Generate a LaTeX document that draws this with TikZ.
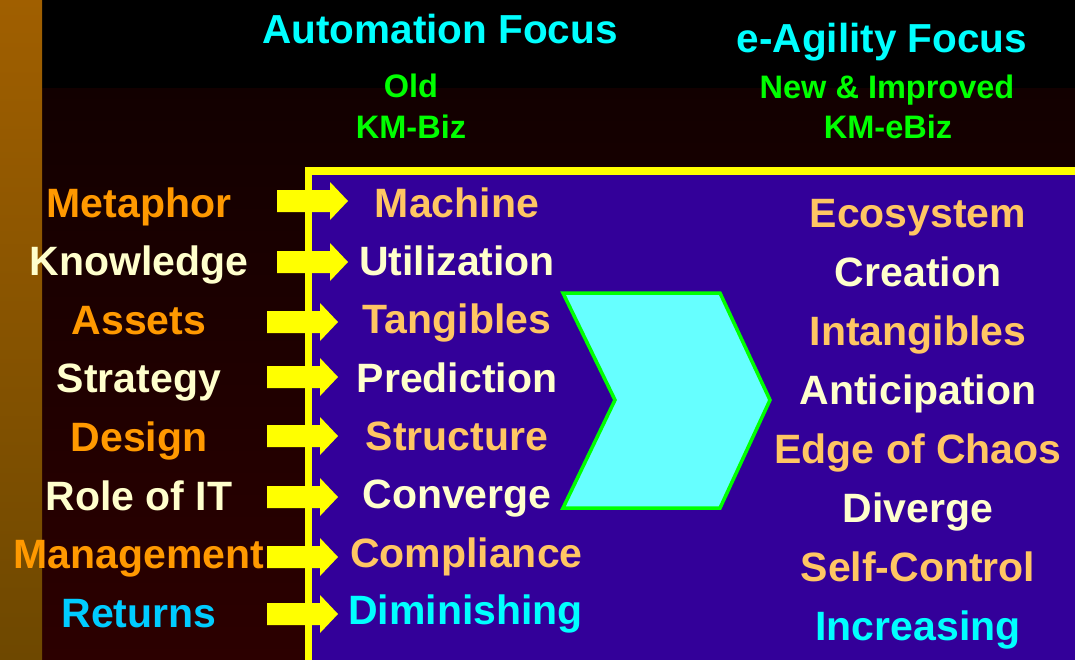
\documentclass[tikz,border=0pt]{standalone}
\usepackage{fontspec}
\setmainfont{Liberation Sans}
\definecolor{kmorange}{HTML}{FF9900}
\definecolor{kmcream}{HTML}{FFFFCC}
\definecolor{kmblue}{HTML}{00CCFF}
\definecolor{kmlight}{HTML}{FFC663}
\definecolor{kmcyan}{HTML}{00FFFF}
\definecolor{kmgreen}{HTML}{00FF00}
\definecolor{kmpurple}{HTML}{330099}
\definecolor{kmyellow}{HTML}{FFFF00}
\definecolor{chevfill}{HTML}{66FFFF}
\definecolor{bgmid}{HTML}{120000}
\definecolor{bgbot}{HTML}{2C0000}
\definecolor{bartop}{HTML}{A05F00}
\definecolor{barmid}{HTML}{FF9A00}
\definecolor{barbot}{HTML}{6E4800}
\begin{document}
\begin{tikzpicture}[x=1pt,y=-1pt,
  lbl/.style={anchor=base,inner sep=0pt,font=\fontsize{41}{41}\selectfont\bfseries},
  hdr/.style={anchor=base,inner sep=0pt,font=\fontsize{40.5}{40.5}\selectfont\bfseries,text=kmcyan},
  sub/.style={anchor=base,inner sep=0pt,font=\fontsize{32.5}{32.5}\selectfont\bfseries,text=kmgreen},
  yarrow/.style={fill=kmyellow},
  frame/.style={draw=kmyellow,line width=7.5pt,fill=kmpurple},
  chev/.style={draw=kmgreen,line width=3.5pt,fill=chevfill,line join=miter}]
\useasboundingbox (0,0) rectangle (1075,659);
% background
\fill[black] (0,0) rectangle (1075,88);
\shade[top color=bgmid,bottom color=bgbot] (0,88) rectangle (1075,659);
\shade[top color=bartop,middle color=barmid,bottom color=barbot] (0,0) rectangle (42,659);
% purple panel
\draw[frame] (308.5,171) rectangle (1090,668);
% chevron
\draw[chev] (563,293) -- (720,293) -- (770,400) -- (720,508) -- (563,508) -- (615,400) -- cycle;
\coordinate (chevron) at (667,400);
% yellow block arrows
\foreach \x/\y in {277/201,277/262,267/322,267/377,267/436,267/497,267/557,267/614}
  \fill[yarrow] (\x,\y-11) -- ++(53,0) -- ++(0,-8) -- ++(18,19) -- ++(-18,19) -- ++(0,-8) -- ++(-53,0) -- cycle;
% headers
\node[hdr] (h1) at (440,43) {Automation Focus};
\node[hdr] (h2) at (882,52) {e-Agility Focus};
\node[sub] (s1) at (411,97) {Old};
\node[sub] (s2) at (411,138) {KM-Biz};
\node[sub] (s3) at (887,98) {New \& Improved};
\node[sub] (s4) at (888,138) {KM-eBiz};
% left column
\node[lbl,text=kmorange] (l1) at (139,217) {Metaphor};
\node[lbl,text=kmcream] (l2) at (139,275.5) {Knowledge};
\node[lbl,text=kmorange] (l3) at (139,334) {Assets};
\node[lbl,text=kmcream] (l4) at (139,392.5) {Strategy};
\node[lbl,text=kmorange] (l5) at (139,451) {Design};
\node[lbl,text=kmcream] (l6) at (139,510) {Role of IT};
\node[lbl,text=kmorange] (l7) at (139,568.5) {Management};
\node[lbl,text=kmblue] (l8) at (139,627) {Returns};
% middle column
\node[lbl,text=kmlight] (m1) at (457,217) {Machine};
\node[lbl,text=kmcream] (m2) at (457,275) {Utilization};
\node[lbl,text=kmlight] (m3) at (457,333) {Tangibles};
\node[lbl,text=kmcream] (m4) at (457,392) {Prediction};
\node[lbl,text=kmlight] (m5) at (457,450) {Structure};
\node[lbl,text=kmcream] (m6) at (457,508) {Converge};
\node[lbl,text=kmlight,anchor=base west] (m7) at (350,567) {Compliance};
\node[lbl,text=kmcyan,anchor=base west] (m8) at (348,624) {Diminishing};
% right column
\node[lbl,text=kmlight] (r1) at (918,227) {Ecosystem};
\node[lbl,text=kmcream] (r2) at (918,286) {Creation};
\node[lbl,text=kmlight] (r3) at (918,345) {Intangibles};
\node[lbl,text=kmcream] (r4) at (918,404) {Anticipation};
\node[lbl,text=kmlight] (r5) at (918,463) {Edge of Chaos};
\node[lbl,text=kmcream] (r6) at (918,522) {Diverge};
\node[lbl,text=kmlight] (r7) at (918,581) {Self-Control};
\node[lbl,text=kmcyan] (r8) at (918,640) {Increasing};
\end{tikzpicture}
\end{document}
